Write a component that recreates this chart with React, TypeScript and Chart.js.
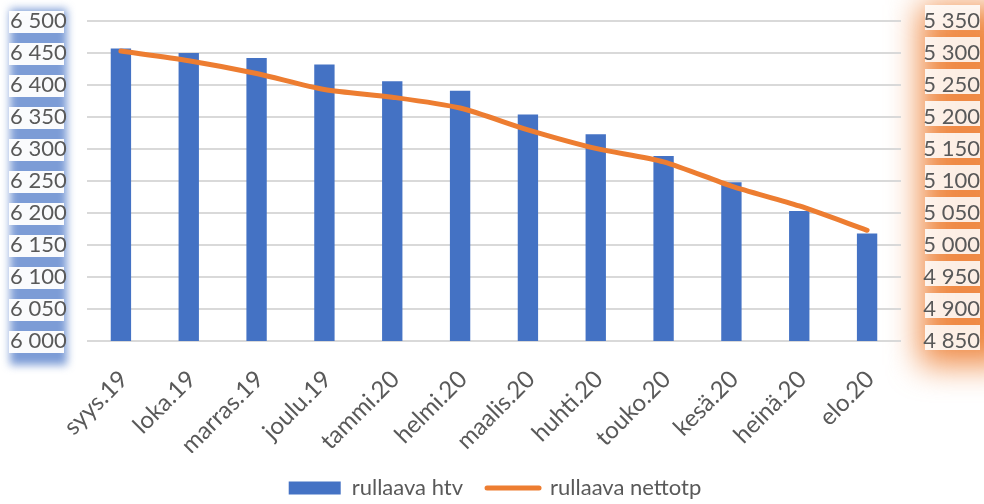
import React, { useEffect, useRef } from "react";
import { Chart, registerables } from "chart.js";

Chart.register(...registerables);

const categories = [
  "syys.19", "loka.19", "marras.19", "joulu.19", "tammi.20", "helmi.20",
  "maalis.20", "huhti.20", "touko.20", "kesä.20", "heinä.20", "elo.20",
];
const htvValues = [6457, 6450, 6442, 6432, 6406, 6391, 6354, 6323, 6289, 6248, 6203, 6168];
const nettotpValues = [5303, 5288, 5268, 5243, 5231, 5214, 5180, 5151, 5130, 5092, 5061, 5023];
const seriesNames = ["rullaava htv", "rullaava nettotp"];
const leftAxis = { min: 6000, max: 6500, step: 50 };
const rightAxis = { min: 4850, max: 5350, step: 50 };

const BLUE = "#4472C4";
const ORANGE = "#ED7D31";
const TEXT = "#595959";
const FONT = "Lato";

const fmt = (v: number) => String(v).replace(/\B(?=(\d{3})+(?!\d))/g, " ");

const glowPlugin = {
  id: "axisGlow",
  beforeDraw(chart: any) {
    const ctx = chart.ctx as CanvasRenderingContext2D;
    const yl = chart.scales.y;
    const yr = chart.scales.y1;
    const W = chart.width;
    ctx.save();
    // left blue glow
    const lt = yl.getPixelForValue(yl.max);
    const lb = yl.getPixelForValue(yl.min);
    ctx.filter = "blur(4px)";
    ctx.fillStyle = "rgba(68,114,196,0.7)";
    ctx.fillRect(10, lt - 12, 57, lb - lt + 36);
    // right orange glow
    const rt = yr.getPixelForValue(yr.max);
    const rb = yr.getPixelForValue(yr.min);
    ctx.filter = "blur(16px)";
    ctx.fillStyle = "rgba(237,125,49,0.9)";
    ctx.fillRect(920, rt - 16, W - 920 + 30, rb - rt + 40);
    ctx.filter = "none";
    // white boxes behind labels
    ctx.fillStyle = "rgba(255,255,255,0.97)";
    yl.ticks.forEach((t: any) => {
      const p = yl.getPixelForValue(t.value);
      ctx.fillRect(9, p - 10, 55, 22);
    });
    ctx.fillStyle = "rgba(255,255,255,0.86)";
    yr.ticks.forEach((t: any) => {
      const p = yr.getPixelForValue(t.value);
      ctx.fillRect(925, p - 16, 55, 25);
    });
    ctx.restore();
  },
};

export default function App() {
  const ref = useRef<HTMLCanvasElement>(null);
  useEffect(() => {
    document.body.style.margin = "0";
    const chart = new Chart(ref.current!, {
      type: "bar",
      data: {
        labels: categories,
        datasets: [
          {
            type: "bar",
            label: seriesNames[0],
            data: htvValues,
            backgroundColor: BLUE,
            yAxisID: "y",
            order: 1,
            categoryPercentage: 0.3,
            barPercentage: 1,
          },
          {
            type: "line",
            label: seriesNames[1],
            data: nettotpValues,
            borderColor: ORANGE,
            backgroundColor: ORANGE,
            borderWidth: 5,
            pointRadius: 0,
            tension: 0.25,
            borderCapStyle: "round",
            yAxisID: "y1",
            order: 0,
          },
        ] as any,
      },
      options: {
        animation: false,
        responsive: true,
        maintainAspectRatio: false,
        layout: { padding: { top: 21, bottom: -5, left: 10, right: 4 } },
        plugins: {
          tooltip: { enabled: false },
          legend: {
            position: "bottom",
            labels: {
              usePointStyle: true,
              pointStyleWidth: 52,
              boxHeight: 13,
              padding: 24,
              color: TEXT,
              font: { family: FONT, size: 22 },
              generateLabels: (c: any) =>
                c.data.datasets.map((d: any, i: number) => ({
                  text: d.label,
                  fillStyle: d.type === "line" ? ORANGE : BLUE,
                  strokeStyle: d.type === "line" ? ORANGE : BLUE,
                  lineWidth: d.type === "line" ? 5 : 0,
                  lineCap: "round",
                  pointStyle: d.type === "line" ? "line" : "rect",
                  fontColor: TEXT,
                  hidden: false,
                  datasetIndex: i,
                })),
            },
          },
        },
        scales: {
          x: {
            grid: { display: false },
            border: { display: false },
            ticks: {
              color: TEXT,
              font: { family: FONT, size: 24 },
              minRotation: 45,
              maxRotation: 45,
              autoSkip: false,
              padding: 16,
              labelOffset: 3,
            },
            afterFit: (s: any) => { s.height = 112; },
          },
          y: {
            position: "left",
            min: leftAxis.min,
            max: leftAxis.max,
            border: { display: false },
            grid: { color: "#d9d9d9", lineWidth: 2, drawTicks: false },
            ticks: {
              stepSize: leftAxis.step,
              color: TEXT,
              font: { family: FONT, size: 22 },
              padding: 0,
              crossAlign: "far",
              callback: (v: any) => fmt(Number(v)),
            },
            afterFit: (s: any) => { s.width = 77; },
          },
          y1: {
            position: "right",
            min: rightAxis.min,
            max: rightAxis.max,
            border: { display: false },
            grid: { display: false, drawTicks: false },
            ticks: {
              stepSize: rightAxis.step,
              color: TEXT,
              font: { family: FONT, size: 22 },
              padding: 0,
              crossAlign: "far",
              callback: (v: any) => fmt(Number(v)),
            },
            afterFit: (s: any) => { s.width = 79; },
          },
        },
      } as any,
      plugins: [glowPlugin],
    });
    return () => chart.destroy();
  }, []);
  return (
    <div style={{ width: 984, height: 504, position: "relative" }}>
      <canvas ref={ref} />
    </div>
  );
}
